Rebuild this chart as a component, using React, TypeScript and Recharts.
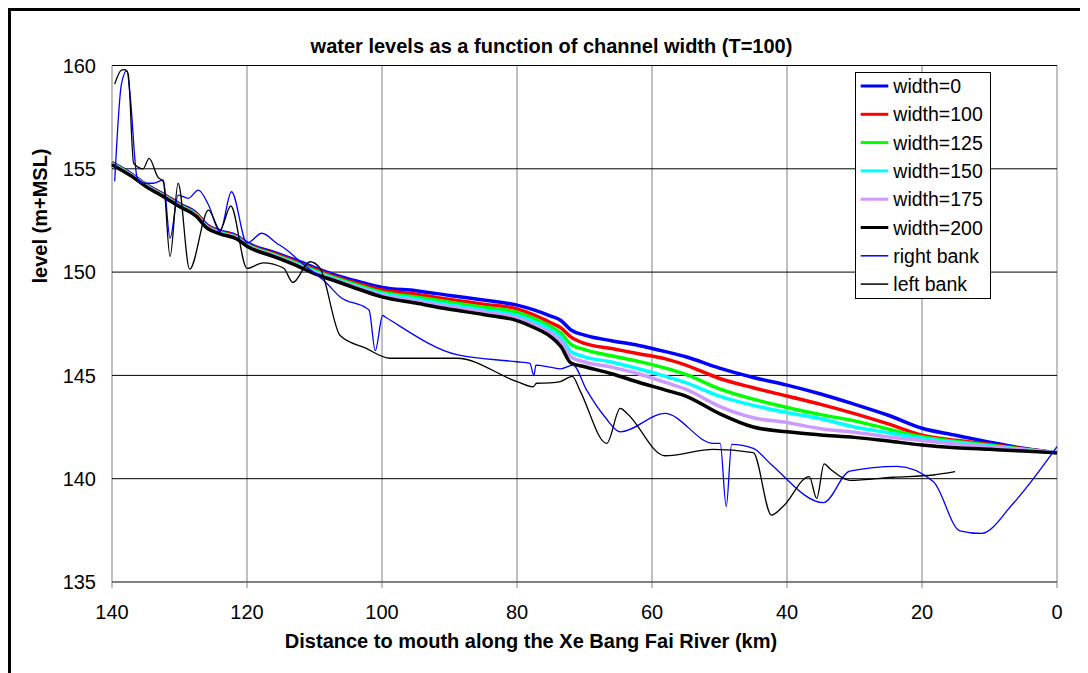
import React from "react";
import { CartesianGrid, Line, LineChart, XAxis, YAxis } from "recharts";

// water level stations, km from the mouth
const stationKm = [
  140, 137, 135, 132, 130, 127.5, 126, 124, 121.5, 120, 116, 112, 110, 107, 103, 100, 95, 90, 85, 80,
  77.5, 75, 73.5, 72, 70, 66, 62, 58, 55, 50, 45, 40, 35, 30, 25, 20, 15, 10, 5, 0,
];

const width0 = [
  155.3, 154.72, 154.25, 153.7, 153.3, 152.85, 152.3, 152.0, 151.75, 151.42, 150.95, 150.48, 150.22, 149.86,
  149.5, 149.26, 149.1, 148.87, 148.65, 148.4, 148.17, 147.87, 147.66, 147.2, 146.95, 146.68, 146.45, 146.15,
  145.9, 145.35, 144.9, 144.53, 144.1, 143.6, 143.07, 142.44, 142.1, 141.77, 141.47, 141.25,
];
const width100 = [
  155.27, 154.69, 154.22, 153.67, 153.26, 152.81, 152.26, 151.96, 151.71, 151.37, 150.89, 150.41, 150.14,
  149.78, 149.39, 149.13, 148.93, 148.68, 148.45, 148.22, 147.93, 147.55, 147.3, 146.85, 146.55, 146.3, 146.05,
  145.8, 145.5, 144.85, 144.4, 144.0, 143.6, 143.15, 142.65, 142.11, 141.86, 141.66, 141.45, 141.25,
];
const width125 = [
  155.25, 154.67, 154.2, 153.64, 153.23, 152.77, 152.22, 151.92, 151.67, 151.33, 150.85, 150.35, 150.07,
  149.72, 149.31, 149.03, 148.8, 148.54, 148.3, 148.05, 147.75, 147.36, 147.05, 146.5, 146.25, 145.95, 145.68,
  145.35, 145.05, 144.35, 143.85, 143.45, 143.1, 142.8, 142.4, 142.03, 141.8, 141.62, 141.43, 141.25,
];
const width150 = [
  155.23, 154.65, 154.18, 153.62, 153.21, 152.75, 152.2, 151.9, 151.65, 151.3, 150.81, 150.3, 150.02, 149.67,
  149.24, 148.95, 148.7, 148.42, 148.17, 147.9, 147.6, 147.2, 146.85, 146.15, 145.9, 145.65, 145.32, 144.95,
  144.65, 144.0, 143.55, 143.2, 142.9, 142.5, 142.22, 141.96, 141.75, 141.58, 141.41, 141.25,
];
const width175 = [
  155.22, 154.64, 154.17, 153.6, 153.19, 152.73, 152.18, 151.88, 151.63, 151.28, 150.79, 150.27, 149.97,
  149.63, 149.19, 148.88, 148.6, 148.32, 148.07, 147.78, 147.45, 147.04, 146.65, 145.9, 145.65, 145.4, 145.08,
  144.66, 144.33, 143.5, 142.95, 142.72, 142.42, 142.25, 142.02, 141.85, 141.68, 141.54, 141.4, 141.25,
];
const width200 = [
  155.2, 154.62, 154.15, 153.58, 153.17, 152.7, 152.15, 151.85, 151.6, 151.25, 150.75, 150.22, 149.92, 149.58,
  149.12, 148.8, 148.5, 148.2, 147.95, 147.65, 147.32, 146.87, 146.4, 145.6, 145.42, 145.08, 144.67, 144.29,
  144.0, 143.15, 142.5, 142.27, 142.12, 142.0, 141.82, 141.63, 141.5, 141.42, 141.34, 141.25,
];

const rightBankKm = [
  139.6, 138.6, 137.8, 137.3, 136.3, 135.6, 133.9, 132.4, 131.4, 130.2, 128.7, 127.2, 125.7, 124.0, 122.3,
  120.0, 117.8, 115.6, 114.1, 112.1, 108.2, 106.2, 102.3, 101.9, 101.0, 99.9, 99.4, 88.9, 80.0, 78.1, 77.5,
  77.2, 75.1, 73.5, 71.7, 69.7, 67.0, 64.7, 58.1, 50.9, 49.9, 49.0, 48.2, 45.0, 42.5, 34.6, 30.7, 23.7, 18.3,
  14.4, 11.2, 6.5, 0,
];
const rightBankLevel = [
  154.4, 159.1, 159.75, 158.5, 154.6, 154.3, 154.3, 154.46, 151.64, 153.73, 153.57, 153.97, 153.25, 151.96,
  153.89, 151.4, 151.88, 151.4, 151.07, 150.5, 149.46, 148.8, 148.25, 148.15, 146.2, 147.9, 147.8, 146.0,
  145.66, 145.58, 145.0, 145.5, 145.4, 145.32, 145.5, 144.3, 143.0, 142.27, 143.16, 141.71, 141.71, 138.65,
  141.66, 141.47, 140.74, 138.84, 140.37, 140.6, 139.85, 137.48, 137.35, 138.8, 141.55,
];

const leftBankKm = [
  139.6, 138.6, 138.1, 137.6, 136.8, 135.4, 134.5, 133.2, 132.4, 131.4, 130.2, 128.5, 125.7, 124.0, 122.4,
  120.0, 117.6, 114.6, 113.2, 110.7, 109.2, 106.2, 102.5, 98.8, 88.9, 80.0, 77.6, 77.1, 75.1, 73.6, 71.8,
  70.7, 66.7, 64.7, 63.7, 58.1, 50.9, 45.0, 42.3, 40.6, 36.7, 35.6, 34.5, 33.6, 30.7, 24.3, 18.3, 15.1,
];
const leftBankLevel = [
  159.1, 159.78, 159.8, 159.6, 155.27, 155.0, 155.5, 154.6, 154.38, 150.75, 154.3, 150.14, 153.0, 152.04,
  153.2, 150.18, 150.45, 150.2, 149.5, 150.5, 150.2, 146.93, 146.33, 145.83, 145.83, 144.7, 144.45, 144.62,
  144.64, 144.7, 144.95, 144.29, 141.71, 143.4, 143.16, 141.11, 141.42, 141.26, 138.24, 138.65, 140.1, 139.05,
  140.72, 140.47, 139.92, 140.07, 140.18, 140.34,
];

const xTicks = [0, 20, 40, 60, 80, 100, 120, 140];
const yTicks = [135, 140, 145, 150, 155, 160];

const toPoints = (km: number[], level: number[]) => km.map((k, i) => ({ km: k, level: level[i] }));

const series = [
  { name: "width=0", data: toPoints(stationKm, width0), color: "#0000ff", width: 3.5 },
  { name: "width=100", data: toPoints(stationKm, width100), color: "#ff0000", width: 3.5 },
  { name: "width=125", data: toPoints(stationKm, width125), color: "#00ff00", width: 3.5 },
  { name: "width=150", data: toPoints(stationKm, width150), color: "#00ffff", width: 3.5 },
  { name: "width=175", data: toPoints(stationKm, width175), color: "#cc99ff", width: 3.5 },
  { name: "width=200", data: toPoints(stationKm, width200), color: "#000000", width: 3.5 },
  { name: "right bank", data: toPoints(rightBankKm, rightBankLevel), color: "#0000ff", width: 1.3 },
  { name: "left bank", data: toPoints(leftBankKm, leftBankLevel), color: "#000000", width: 1.3 },
];

const font = '"Liberation Sans", Arial, sans-serif';
const tickStyle = { fontFamily: font, fontSize: 20, fill: "#000" };

export default function App() {
  return (
    <div style={{ position: "relative", width: 1080, height: 665, fontFamily: font }}>
      <LineChart width={1080} height={665} margin={{ top: 57.5, right: 31, bottom: 51, left: 0 }}>
        <CartesianGrid horizontal={false} vertical stroke="#808080" />
        <CartesianGrid horizontal vertical={false} stroke="#000" />
        <XAxis
          type="number"
          dataKey="km"
          domain={[0, 140]}
          reversed
          ticks={xTicks}
          interval={0}
          axisLine={false}
          tickLine={{ stroke: "#808080" }}
          tickSize={6}
          tickMargin={17}
          height={40}
          tick={tickStyle}
        />
        <YAxis
          type="number"
          domain={[135, 160]}
          ticks={yTicks}
          interval={0}
          axisLine={false}
          tickLine={false}
          tickSize={0}
          tickMargin={16}
          width={104}
          tick={tickStyle}
        />
        {series.map((s) => (
          <Line
            key={s.name}
            data={s.data}
            dataKey="level"
            name={s.name}
            type="monotone"
            stroke={s.color}
            strokeWidth={s.width}
            dot={false}
            activeDot={false}
            isAnimationActive={false}
          />
        ))}
      </LineChart>

      <svg
        width={1080}
        height={665}
        style={{ position: "absolute", left: 0, top: 0, pointerEvents: "none" }}
      >
        <text x={543.5} y={45} textAnchor="middle" fontFamily={font} fontSize={20} fontWeight="bold">
          water levels as a function of channel width (T=100)
        </text>
        <text x={523} y={640} textAnchor="middle" fontFamily={font} fontSize={20} fontWeight="bold">
          Distance to mouth along the Xe Bang Fai River (km)
        </text>
        <text
          transform="translate(39,208) rotate(-90)"
          textAnchor="middle"
          fontFamily={font}
          fontSize={20}
          fontWeight="bold"
        >
          level (m+MSL)
        </text>
        <rect x={847.5} y={64.5} width={135} height={226} fill="#fff" stroke="#000" strokeWidth={1} />
        {series.map((s, i) => {
          const cy = 78 + i * 28.3;
          return (
            <g key={s.name}>
              <line x1={852.7} x2={880.3} y1={cy} y2={cy} stroke={s.color} strokeWidth={s.width > 2 ? 3 : 1.5} />
              <text x={885.3} y={cy + 7} fontFamily={font} fontSize={19.5} fill="#000">
                {s.name}
              </text>
            </g>
          );
        })}
      </svg>

      <div
        style={{
          position: "absolute",
          left: 0,
          top: 0,
          width: 1080,
          height: 665,
          borderTop: "3px solid #000",
          borderLeft: "3px solid #000",
          boxSizing: "border-box",
          pointerEvents: "none",
        }}
      />
    </div>
  );
}
